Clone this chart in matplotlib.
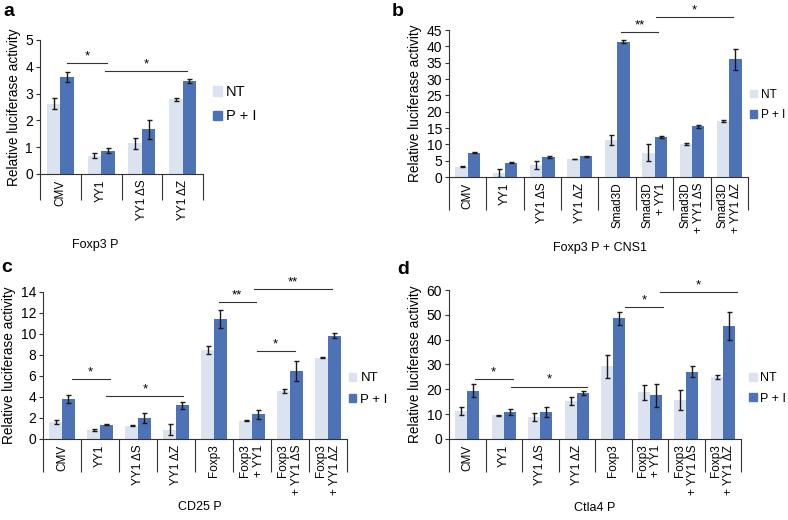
import numpy as np
import matplotlib
matplotlib.use("Agg")
import matplotlib.pyplot as plt
from matplotlib.patches import Patch

plt.rcParams['font.family'] = ['Liberation Sans', 'DejaVu Sans']

NT_COLOR = '#dbe2f0'
PI_COLOR = '#4e72b6'
ERR_COLOR = '#1a1a1a'

# ---- panel a: Foxp3 P ----
labels_a = ['CMV', 'YY1', 'YY1 ΔS', 'YY1 ΔZ']
nt_a = [2.62, 0.68, 1.15, 2.78]
nt_err_a = [0.2, 0.1, 0.2, 0.07]
pi_a = [3.62, 0.87, 1.67, 3.47]
pi_err_a = [0.17, 0.1, 0.36, 0.07]
sig_a = [(0.15, 1.15, 4.14, '*'), (1.1, 3.1, 3.84, '*')]

# ---- panel b: Foxp3 P + CNS1 ----
labels_b = ['CMV', 'YY1', 'YY1 ΔS', 'YY1 ΔZ', 'Smad3D',
            'Smad3D\n+ YY1', 'Smad3D\n+ YY1 ΔS', 'Smad3D\n+ YY1 ΔZ']
nt_b = [3.2, 1.3, 3.8, 5.5, 11.3, 7.4, 10.0, 17.2]
nt_err_b = [0.2, 1.2, 1.2, 0.1, 1.5, 2.6, 0.3, 0.3]
pi_b = [7.4, 4.4, 6.2, 6.3, 41.4, 12.3, 15.5, 36.0]
pi_err_b = [0.2, 0.15, 0.35, 0.1, 0.5, 0.4, 0.4, 3.2]
sig_b = [(4.1, 5.1, 44.3, '**'), (5.05, 7.1, 49.0, '*')]

# ---- panel c: CD25 P ----
labels_c = ['CMV', 'YY1', 'YY1 ΔS', 'YY1 ΔZ', 'Foxp3',
            'Foxp3\n+ YY1', 'Foxp3\n+ YY1 ΔS', 'Foxp3\n+ YY1 ΔZ']
nt_c = [1.65, 0.85, 1.27, 0.9, 8.5, 1.75, 4.6, 7.75]
nt_err_c = [0.2, 0.08, 0.05, 0.5, 0.4, 0.08, 0.2, 0.08]
pi_c = [3.8, 1.37, 2.0, 3.2, 11.4, 2.35, 6.45, 9.85]
pi_err_c = [0.35, 0.03, 0.5, 0.35, 0.85, 0.45, 0.95, 0.25]
sig_c = [(0.25, 1.26, 5.69, '*'), (1.17, 3.19, 4.1, '*'),
         (4.12, 5.1, 13.0, '**'), (5.06, 7.1, 14.3, '**'),
         (5.13, 6.12, 8.4, '*')]

# ---- panel d: Ctla4 P ----
labels_d = labels_c
nt_d = [11.2, 9.5, 8.7, 15.3, 29.2, 18.8, 15.7, 25.1]
nt_err_d = [1.6, 0.2, 1.6, 1.8, 4.5, 3.0, 4.2, 0.8]
pi_d = [19.5, 11.0, 11.0, 18.4, 48.7, 17.6, 27.1, 45.5]
pi_err_d = [2.7, 1.2, 2.0, 0.8, 2.6, 4.7, 2.2, 5.7]
sig_d = [(0.21, 1.24, 24.2, '*'), (1.21, 3.29, 21.1, '*'),
         (4.33, 5.35, 53.2, '*'), (5.28, 7.4, 59.1, '*')]


def draw_panel(ax, labels, nt, nt_err, pi, pi_err, ymax, ystep, sig,
               div_len, legend_anchor, legend_size):
    n = len(labels)
    x = np.arange(n)
    w = 0.33
    err_kw = dict(ecolor=ERR_COLOR, elinewidth=1.0, capsize=1.8, capthick=1.0)
    ax.bar(x - w / 2, nt, w, yerr=nt_err, color=NT_COLOR, error_kw=err_kw)
    ax.bar(x + w / 2, pi, w, yerr=pi_err, color=PI_COLOR, error_kw=err_kw)

    ax.set_xlim(-0.5, n - 0.5)
    ax.set_ylim(0, ymax)
    ax.set_yticks(np.arange(0, ymax + ystep / 2, ystep))
    ax.set_xticks(x)
    ax.set_xticklabels(labels, rotation=90, fontsize=8.5, linespacing=1.15)
    for t in ax.get_xticklabels():
        t.set_multialignment('right')
    ax.set_xticks(np.arange(n + 1) - 0.5, minor=True)
    ax.tick_params(axis='x', which='major', length=0, pad=4)
    ax.tick_params(axis='x', which='minor', length=div_len, width=0.8,
                   color='#333333')
    ax.tick_params(axis='y', length=3, width=0.8, labelsize=10,
                   color='#333333', pad=2)
    for s in ('top', 'right'):
        ax.spines[s].set_visible(False)
    for s in ('left', 'bottom'):
        ax.spines[s].set_linewidth(0.8)
        ax.spines[s].set_color('#333333')
    ax.set_ylabel('Relative luciferase activity', fontsize=9.8, labelpad=3)

    for x0, x1, y, txt in sig:
        ax.plot([x0, x1], [y, y], color='#333333', lw=0.8, clip_on=False)
        ax.annotate(txt, ((x0 + x1) / 2, y), xytext=(0, 0.5),
                    textcoords='offset points', ha='center', va='bottom',
                    fontsize=9.5, annotation_clip=False)

    handles = [Patch(color=NT_COLOR, label='NT'),
               Patch(color=PI_COLOR, label='P + I')]
    ax.legend(handles=handles, loc='center left', bbox_to_anchor=legend_anchor,
              frameon=False, fontsize=legend_size, handlelength=0.6,
              handleheight=0.6, handletextpad=0.3, labelspacing=0.7,
              borderaxespad=0, borderpad=0)


fig = plt.figure(figsize=(7.88, 5.2), dpi=100)
ax_a = fig.add_axes([0.0508, 0.6654, 0.2069, 0.2577])
ax_b = fig.add_axes([0.5698, 0.6596, 0.3794, 0.2827])
ax_c = fig.add_axes([0.0546, 0.1558, 0.3858, 0.2827])
ax_d = fig.add_axes([0.5698, 0.1558, 0.3706, 0.2865])

draw_panel(ax_a, labels_a, nt_a, nt_err_a, pi_a, pi_err_a, 5, 1, sig_a,
           19, (1.06, 0.52), 10.5)
draw_panel(ax_b, labels_b, nt_b, nt_err_b, pi_b, pi_err_b, 45, 5, sig_b,
           24, (1.008, 0.49), 8.5)
draw_panel(ax_c, labels_c, nt_c, nt_err_c, pi_c, pi_err_c, 14, 2, sig_c,
           24, (1.005, 0.34), 9.5)
draw_panel(ax_d, labels_d, nt_d, nt_err_d, pi_d, pi_err_d, 60, 10, sig_d,
           24, (1.028, 0.34), 9)

fig.text(0.1206, 0.529, 'Foxp3 P', ha='center', va='center', fontsize=9)
fig.text(0.761, 0.523, 'Foxp3 P + CNS1', ha='center', va='center', fontsize=9)
fig.text(0.254, 0.025, 'CD25 P', ha='center', va='center', fontsize=9)
fig.text(0.755, 0.023, 'Ctla4 P', ha='center', va='center', fontsize=9)

for letter, px, py in [('a', 9, 12), ('b', 398, 12), ('c', 7, 268), ('d', 403, 270)]:
    fig.text(px / 788, 1 - py / 520, letter, ha='center', va='center',
             fontsize=14, fontweight='bold')

fig.savefig('out.png', dpi=100)
